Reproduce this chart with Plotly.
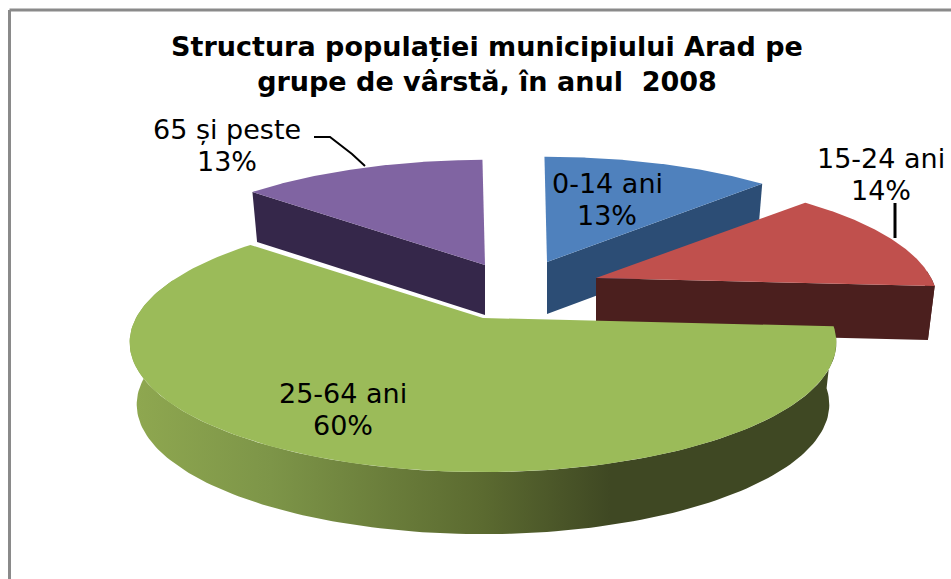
import numpy as np
import plotly.graph_objects as go

# ---- data ----
categories = ["0-14 ani", "15-24 ani", "25-64 ani", "65 și peste"]
values = [13, 14, 60, 13]
title_lines = ["Structura populației municipiului Arad pe", "grupe de vârstă, în anul  2008"]

# ---- style / layout ----
top_colors = ["#4F81BD", "#C0504D", "#9BBB59", "#8064A2"]
side_colors = ["#2C4D75", "#4B1F1E", "#3F4823", "#35274A"]
apex_x = [547, 596, 483, 485]      # exploded slice centres, in page pixels
apex_y = [262, 278, 318, 265]
radius_scale = [1.0, 0.966, 1.0, 1.0]
depths = [52, 54, 62, 50]
cut_face = ["end", "end", None, "start"]
draw_order = [3, 0, 1, 2]
VIEW_ROTATION_DEG = -0.5
VIEW_WARP_DEG = 3.0
R_X, R_Y, PERSP, TAPER = 347.0, 125.0, 0.189, 0.98
label_x = [607, 881, 343, 227]
label_y = [183, 158, 393, 129]
LINE_GAP = 32
FONT = "DejaVu Sans"
LABEL_SIZE = 27


def project(theta, cx, cy, scale):
    view = theta + np.radians(VIEW_ROTATION_DEG) - np.radians(VIEW_WARP_DEG) * np.sin(theta) ** 2
    u, v = np.sin(view), np.cos(view)
    s = 1.0 / (1.0 + PERSP * v)
    return cx + R_X * scale * u * s, cy - R_Y * scale * v * s


def lower(x, y, cx, depth):
    return cx + (x - cx) * TAPER, y + depth


fig = go.Figure()
edges = np.cumsum([0] + values) / sum(values) * 2 * np.pi


def poly(xs, ys, color=None, gradient=None):
    kw = dict(fillgradient=gradient) if gradient else dict(fillcolor=color)
    fig.add_trace(go.Scatter(x=xs, y=ys, mode="lines", fill="toself",
                             line=dict(width=0, color=color or "#3F4823"),
                             hoverinfo="skip", showlegend=False, **kw))


for i in draw_order:
    cx, cy, sc, d = apex_x[i], apex_y[i], radius_scale[i], depths[i]
    a, b = edges[i], edges[i + 1]
    th = np.linspace(a, b, 160)
    x, y = project(th, cx, cy, sc)
    # outer wall: only the part facing the viewer
    lo, hi = max(a, np.pi / 2), min(b, 1.62 * np.pi)
    if hi > lo:
        tw = np.linspace(lo, hi, 160)
        wx, wy = project(tw, cx, cy, sc)
        bx, by = lower(wx, wy, cx, d)
        xs = np.concatenate([wx, bx[::-1]])
        ys = np.concatenate([wy, by[::-1]])
        if i == 2:
            grad = dict(type="horizontal", colorscale=[
                [0.0, "#8FA850"], [0.2, "#7D9548"], [0.5, "#5B6A30"],
                [0.68, "#3F4823"], [1.0, "#3F4823"]])
            poly(xs, ys, gradient=grad)
        else:
            poly(xs, ys, side_colors[i])
    # radial cut face
    if cut_face[i]:
        ex, ey = (x[-1], y[-1]) if cut_face[i] == "end" else (x[0], y[0])
        ebx, eby = lower(ex, ey, cx, d)
        poly([cx, ex, ebx, cx, cx], [cy, ey, eby, cy + d, cy], side_colors[i])
    # top face
    poly(np.concatenate([[cx], x, [cx]]), np.concatenate([[cy], y, [cy]]), top_colors[i])

annotations = []
for i, cat in enumerate(categories):
    for k, txt in enumerate([cat, f"{values[i]}%"]):
        annotations.append(dict(x=label_x[i], y=label_y[i] + k * LINE_GAP, text=txt,
                                showarrow=False, xanchor="center", yanchor="middle",
                                font=dict(family=FONT, size=LABEL_SIZE, color="#000000")))

shapes = [
    dict(type="line", x0=9.5, x1=951, y0=10, y1=10, line=dict(color="#8A8A8A", width=3)),
    dict(type="line", x0=9.5, x1=9.5, y0=10, y1=579, line=dict(color="#8A8A8A", width=3)),
    dict(type="path", path="M 314 137 L 330 137 L 352 154 L 365 166", line=dict(color="#000000", width=2)),
    dict(type="line", x0=895, x1=895, y0=203, y1=238, line=dict(color="#000000", width=3)),
]

fig.update_layout(
    width=951, height=579, autosize=False,
    margin=dict(l=0, r=0, t=0, b=0),
    paper_bgcolor="white", plot_bgcolor="white",
    title=dict(text="<br>".join(title_lines), x=487 / 951, xanchor="center",
               y=1 - 56 / 579, yanchor="top",
               font=dict(family=FONT, size=27, color="#000000", weight="bold")),
    xaxis=dict(range=[0, 951], visible=False, fixedrange=True),
    yaxis=dict(range=[579, 0], visible=False, fixedrange=True),
    annotations=annotations, shapes=shapes, showlegend=False,
)
fig.write_html("out.html", config=dict(displayModeBar=False),
               post_script="document.documentElement.style.overflow='hidden';document.body.style.margin='0';")
